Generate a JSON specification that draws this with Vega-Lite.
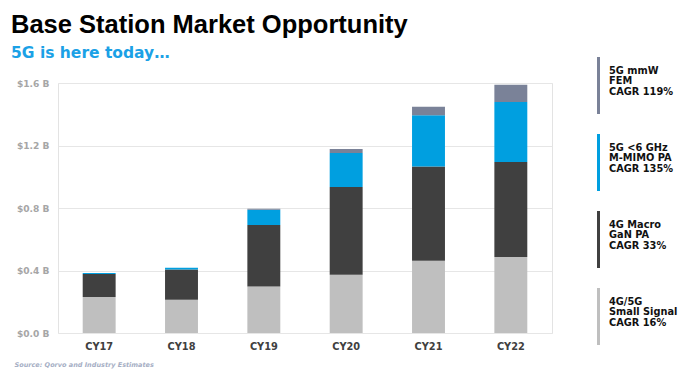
{
  "$schema": "https://vega.github.io/schema/vega-lite/v6.json",
  "width": 494,
  "height": 250,
  "autosize": {"type": "none"},
  "padding": {"left": 58, "top": 83, "right": 134, "bottom": 38},
  "background": "white",
  "title": {
    "text": "Base Station Market Opportunity",
    "subtitle": "5G is here today…",
    "anchor": "start",
    "frame": "group",
    "dx": -47,
    "offset": -4,
    "font": "Liberation Sans",
    "fontSize": 25.5,
    "fontWeight": "bold",
    "color": "#000000",
    "subtitleFont": "DejaVu Sans",
    "subtitleFontSize": 15.5,
    "subtitleFontWeight": "bold",
    "subtitleColor": "#1ba1e6",
    "subtitlePadding": 7
  },
  "config": {
    "view": {"stroke": "#e3e3e3", "strokeWidth": 1},
    "axis": {"domain": false, "ticks": false, "grid": false}
  },
  "data": {
    "values": [
      {"year": "CY17", "series": "4G/5G Small Signal", "level": 1, "value": 0.230},
      {"year": "CY17", "series": "4G Macro GaN PA", "level": 2, "value": 0.148},
      {"year": "CY17", "series": "5G <6 GHz M-MIMO PA", "level": 3, "value": 0.006},
      {"year": "CY17", "series": "5G mmW FEM", "level": 4, "value": 0.0},
      {"year": "CY18", "series": "4G/5G Small Signal", "level": 1, "value": 0.213},
      {"year": "CY18", "series": "4G Macro GaN PA", "level": 2, "value": 0.194},
      {"year": "CY18", "series": "5G <6 GHz M-MIMO PA", "level": 3, "value": 0.011},
      {"year": "CY18", "series": "5G mmW FEM", "level": 4, "value": 0.0},
      {"year": "CY19", "series": "4G/5G Small Signal", "level": 1, "value": 0.298},
      {"year": "CY19", "series": "4G Macro GaN PA", "level": 2, "value": 0.393},
      {"year": "CY19", "series": "5G <6 GHz M-MIMO PA", "level": 3, "value": 0.098},
      {"year": "CY19", "series": "5G mmW FEM", "level": 4, "value": 0.006},
      {"year": "CY20", "series": "4G/5G Small Signal", "level": 1, "value": 0.373},
      {"year": "CY20", "series": "4G Macro GaN PA", "level": 2, "value": 0.561},
      {"year": "CY20", "series": "5G <6 GHz M-MIMO PA", "level": 3, "value": 0.218},
      {"year": "CY20", "series": "5G mmW FEM", "level": 4, "value": 0.026},
      {"year": "CY21", "series": "4G/5G Small Signal", "level": 1, "value": 0.463},
      {"year": "CY21", "series": "4G Macro GaN PA", "level": 2, "value": 0.603},
      {"year": "CY21", "series": "5G <6 GHz M-MIMO PA", "level": 3, "value": 0.327},
      {"year": "CY21", "series": "5G mmW FEM", "level": 4, "value": 0.055},
      {"year": "CY22", "series": "4G/5G Small Signal", "level": 1, "value": 0.486},
      {"year": "CY22", "series": "4G Macro GaN PA", "level": 2, "value": 0.608},
      {"year": "CY22", "series": "5G <6 GHz M-MIMO PA", "level": 3, "value": 0.384},
      {"year": "CY22", "series": "5G mmW FEM", "level": 4, "value": 0.111}
    ]
  },
  "mark": {"type": "bar"},
  "encoding": {
    "x": {
      "field": "year",
      "type": "nominal",
      "scale": {"paddingInner": 0.6, "paddingOuter": 0.3},
      "axis": {
        "labelAngle": 0,
        "labelFont": "DejaVu Sans",
        "labelFontWeight": "bold",
        "labelFontSize": 9.8,
        "labelColor": "#404040",
        "labelPadding": 8,
        "title": "Source: Qorvo and Industry Estimates",
        "titleFont": "DejaVu Sans",
        "titleFontStyle": "italic",
        "titleFontWeight": "bold",
        "titleFontSize": 6.5,
        "titleColor": "#a5aec4",
        "titleAlign": "left",
        "titleBaseline": "middle",
        "titleAnchor": "start",
        "titleX": -44,
        "titleY": 31
      }
    },
    "y": {
      "field": "value",
      "type": "quantitative",
      "stack": "zero",
      "scale": {"domain": [0, 1.6], "nice": false},
      "axis": {
        "values": [0, 0.4, 0.8, 1.2, 1.6],
        "labelExpr": "'$' + format(datum.value, '.1f') + ' B'",
        "grid": true,
        "gridColor": "#e6e6e6",
        "gridWidth": 1.2,
        "labelFont": "DejaVu Sans",
        "labelFontWeight": "bold",
        "labelFontSize": 9.1,
        "labelColor": "#a6a6a6",
        "labelPadding": 9,
        "title": null
      }
    },
    "order": {"field": "level", "type": "quantitative", "sort": "ascending"},
    "color": {
      "field": "series",
      "type": "nominal",
      "scale": {
        "domain": ["4G/5G Small Signal", "4G Macro GaN PA", "5G <6 GHz M-MIMO PA", "5G mmW FEM"],
        "range": ["#bfbfbf", "#404040", "#009fe0", "#7a8298"]
      },
      "legend": {
        "orient": "none",
        "legendX": 512,
        "legendY": -26,
        "padding": 0,
        "title": null,
        "values": ["5G mmW FEM", "5G <6 GHz M-MIMO PA", "4G Macro GaN PA", "4G/5G Small Signal"],
        "symbolType": "M-0.0526,-1H0.0526V1H-0.0526Z",
        "symbolSize": 3249,
        "symbolStrokeWidth": 0,
        "rowPadding": 20,
        "labelOffset": -18,
        "labelFont": "DejaVu Sans",
        "labelFontWeight": "bold",
        "labelFontSize": 9.8,
        "labelColor": "#111111",
        "labelBaseline": "middle",
        "labelLimit": 200,
        "labelExpr": "datum.label == '5G mmW FEM' ? ['5G mmW', 'FEM', 'CAGR 119%'] : datum.label == '5G <6 GHz M-MIMO PA' ? ['5G <6 GHz', 'M-MIMO  PA', 'CAGR 135%'] : datum.label == '4G Macro GaN PA' ? ['4G Macro', 'GaN PA', 'CAGR 33%'] : ['4G/5G', 'Small Signal', 'CAGR 16%']",
        "encode": {
          "labels": {"update": {"lineHeight": {"value": 10.5}, "dy": {"value": -15}}},
          "symbols": {"update": {"fill": {"signal": "datum.value == '5G mmW FEM' ? '#808080' : datum.value == '5G <6 GHz M-MIMO PA' ? '#00a0e3' : datum.value == '4G Macro GaN PA' ? '#404040' : '#b4bdd0'"}, "stroke": {"value": "transparent"}}}
        }
      }
    }
  }
}
